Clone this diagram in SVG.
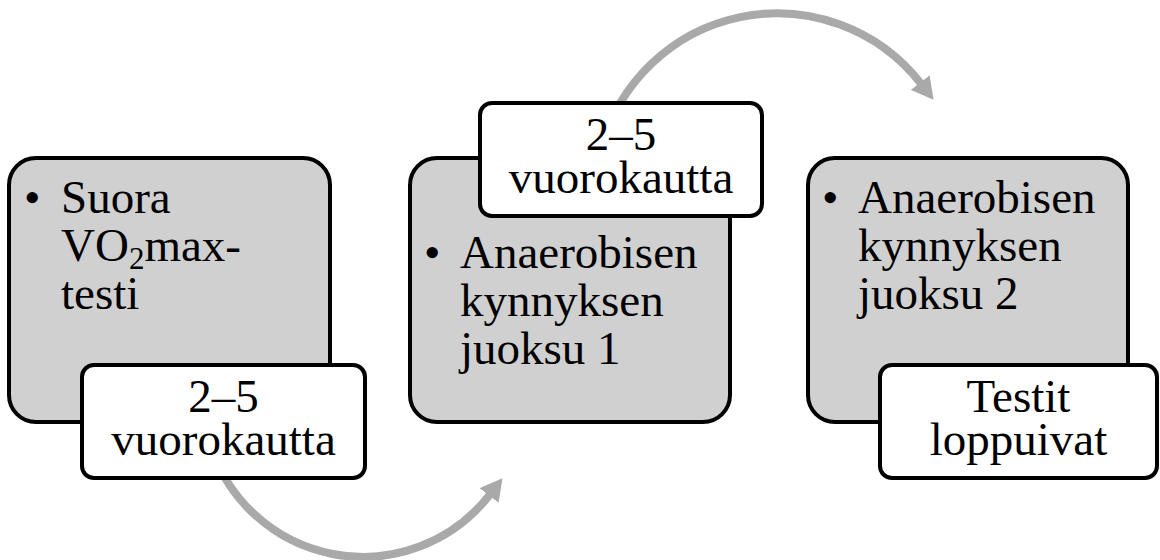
<svg xmlns="http://www.w3.org/2000/svg" width="1160" height="560" viewBox="0 0 1160 560">
  <style>
    .box { fill: #d0d0d0; stroke: #000; stroke-width: 4; }
    .lbl { fill: #fff; stroke: #000; stroke-width: 4; }
    .t { font-family: "Liberation Serif", "Times New Roman", serif; font-size: 47px; fill: #000; }
    .c { text-anchor: middle; }
    .arc { fill: none; stroke: #a9a9a9; stroke-width: 8; }
  </style>
  <defs>
    <marker id="ah" markerUnits="userSpaceOnUse" markerWidth="24" markerHeight="24" refX="1" refY="11" orient="auto" viewBox="0 0 22 22">
      <path d="M0,0 L20,11 L0,22 Z" fill="#a9a9a9"/>
    </marker>
  </defs>
  <rect width="1160" height="560" fill="#fff"/>

  <g id="connectors">
    <path class="arc" d="M209,440 A160,160 0 0 0 489.8,494.6" marker-end="url(#ah)"/>
    <path class="arc" d="M601,150 A182,182 0 0 1 920.8,83.4" marker-end="url(#ah)"/>
  </g>

  <g id="node1">
    <rect class="box" x="9" y="158" width="321" height="264" rx="27"/>
    <text class="t" x="24" y="213">•</text>
    <text class="t" x="61" y="213">Suora</text>
    <text class="t" x="61" y="261">VO<tspan font-size="31" dy="8">2</tspan><tspan dy="-8">max-</tspan></text>
    <text class="t" x="61" y="309">testi</text>
  </g>
  <g id="label1">
    <rect class="lbl" x="82" y="365" width="283" height="113" rx="12"/>
    <text class="t c" x="223.5" y="412">2–5</text>
    <text class="t c" x="223.5" y="455">vuorokautta</text>
  </g>

  <g id="node2">
    <rect class="box" x="410" y="158" width="320" height="264" rx="27"/>
    <text class="t" x="424" y="268">•</text>
    <text class="t" x="460" y="268">Anaerobisen</text>
    <text class="t" x="460" y="316">kynnyksen</text>
    <text class="t" x="460" y="364">juoksu 1</text>
  </g>
  <g id="label2">
    <rect class="lbl" x="480" y="103" width="282" height="113" rx="12"/>
    <text class="t c" x="621" y="150">2–5</text>
    <text class="t c" x="621" y="193">vuorokautta</text>
  </g>

  <g id="node3">
    <rect class="box" x="808" y="158" width="320" height="264" rx="27"/>
    <text class="t" x="822" y="213">•</text>
    <text class="t" x="858" y="213">Anaerobisen</text>
    <text class="t" x="858" y="261">kynnyksen</text>
    <text class="t" x="858" y="309">juoksu 2</text>
  </g>
  <g id="label3">
    <rect class="lbl" x="880" y="365" width="277" height="113" rx="12"/>
    <text class="t c" x="1018.5" y="412">Testit</text>
    <text class="t c" x="1018.5" y="455">loppuivat</text>
  </g>
</svg>
